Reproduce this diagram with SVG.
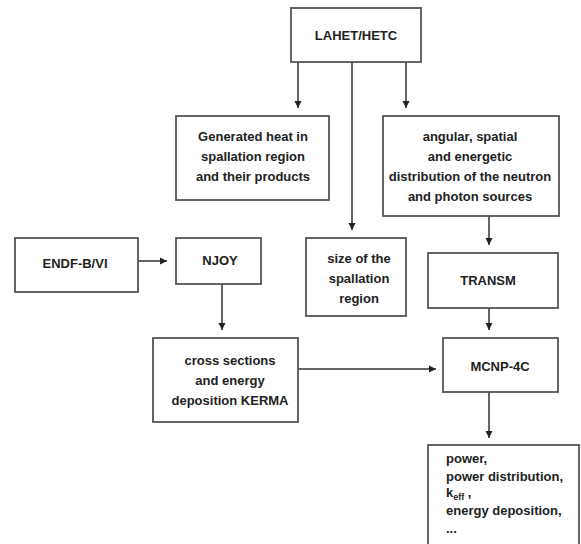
<svg xmlns="http://www.w3.org/2000/svg" width="581" height="544" viewBox="0 0 581 544">
<defs>
<marker id="ah" markerWidth="8" markerHeight="8" refX="7" refY="4" orient="auto" markerUnits="userSpaceOnUse">
<path d="M0,0.5 L7,4 L0,7.5 Z" fill="#222"/>
</marker>
<style>
.box{fill:#fff;stroke:#555;stroke-width:1.8}
.t{font-family:"Liberation Sans",Arial,sans-serif;font-weight:bold;font-size:13px;fill:#222;text-anchor:middle}
.tl{font-family:"Liberation Sans",Arial,sans-serif;font-weight:bold;font-size:13px;fill:#222}
.c{fill:none;stroke:#333;stroke-width:1.5}
</style>
</defs>
<rect width="581" height="544" fill="#fff"/>
<g id="connectors">
<line class="c" x1="298" y1="62" x2="298" y2="108" marker-end="url(#ah)"/>
<line class="c" x1="352" y1="62" x2="352" y2="230" marker-end="url(#ah)"/>
<line class="c" x1="406" y1="62" x2="406" y2="108" marker-end="url(#ah)"/>
<line class="c" x1="489" y1="216" x2="489" y2="245" marker-end="url(#ah)"/>
<line class="c" x1="489" y1="308" x2="489" y2="330" marker-end="url(#ah)"/>
<line class="c" x1="138" y1="261" x2="167" y2="261" marker-end="url(#ah)"/>
<line class="c" x1="222" y1="284" x2="222" y2="330" marker-end="url(#ah)"/>
<line class="c" x1="298" y1="369" x2="436" y2="369" marker-end="url(#ah)"/>
<line class="c" x1="489" y1="392" x2="489" y2="438" marker-end="url(#ah)"/>
</g>
<g id="lahet">
<rect class="box" x="291" y="8" width="130" height="54"/>
<text class="t" x="356" y="40">LAHET/HETC</text>
</g>
<g id="heat">
<rect class="box" x="176" y="116" width="153" height="84"/>
<text class="t" x="253" y="141">Generated heat in</text>
<text class="t" x="253" y="161">spallation region</text>
<text class="t" x="253" y="181">and their products</text>
</g>
<g id="angular">
<rect class="box" x="383" y="116" width="176" height="100"/>
<text class="t" x="470" y="141">angular, spatial</text>
<text class="t" x="470" y="161">and energetic</text>
<text class="t" x="470" y="181">distribution of the neutron</text>
<text class="t" x="470" y="201">and photon sources</text>
</g>
<g id="size">
<rect class="box" x="306" y="238" width="100" height="78"/>
<text class="t" x="359" y="263">size of the</text>
<text class="t" x="359" y="283">spallation</text>
<text class="t" x="359" y="303">region</text>
</g>
<g id="transm">
<rect class="box" x="428" y="253" width="130" height="55"/>
<text class="t" x="488" y="285">TRANSM</text>
</g>
<g id="endf">
<rect class="box" x="15" y="238" width="123" height="54"/>
<text class="t" x="75" y="268">ENDF-B/VI</text>
</g>
<g id="njoy">
<rect class="box" x="176" y="238" width="85" height="46"/>
<text class="t" x="220" y="265">NJOY</text>
</g>
<g id="cross">
<rect class="box" x="153" y="338" width="145" height="84"/>
<text class="t" x="230" y="365">cross sections</text>
<text class="t" x="230" y="385">and energy</text>
<text class="t" x="230" y="405">deposition KERMA</text>
</g>
<g id="mcnp">
<rect class="box" x="443" y="338" width="115" height="54"/>
<text class="t" x="500" y="371">MCNP-4C</text>
</g>
<g id="output">
<rect class="box" x="428" y="445" width="151" height="110"/>
<text class="tl" x="446" y="463">power,</text>
<text class="tl" x="446" y="481">power distribution,</text>
<text class="tl" x="446" y="497">k<tspan font-size="9" dy="3">eff</tspan><tspan dy="-3"> ,</tspan></text>
<text class="tl" x="446" y="515">energy deposition,</text>
<text class="tl" x="446" y="533">...</text>
</g>
</svg>
